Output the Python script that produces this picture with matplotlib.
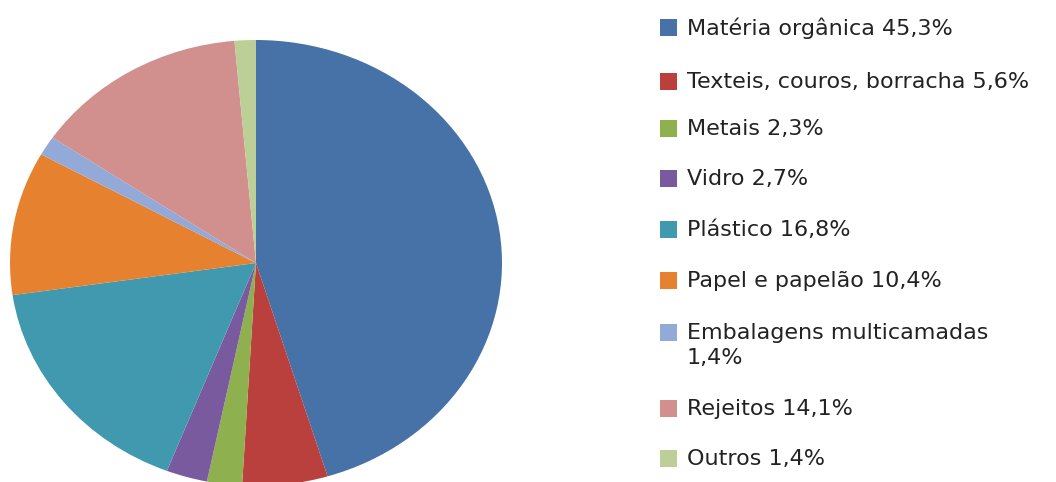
import matplotlib.pyplot as plt
from matplotlib.patches import Rectangle

labels = ['Matéria orgânica 45,3%', 'Texteis, couros, borracha 5,6%', 'Metais 2,3%',
          'Vidro 2,7%', 'Plástico 16,8%', 'Papel e papelão 10,4%',
          'Embalagens multicamadas\n1,4%', 'Rejeitos 14,1%', 'Outros 1,4%']
values = [45.3, 5.6, 2.3, 2.7, 16.8, 10.4, 1.4, 14.1, 1.4]
colors = ['#4672A8', '#B9403D', '#8FB04E', '#7A5A9E', '#4199B0',
          '#E6822F', '#93A9D8', '#D18F8E', '#BBCF96']

W, H = 1056, 482
fig = plt.figure(figsize=(W / 100, H / 100), dpi=100)

# pie is slightly squashed in the reference, so use an auto-aspect axes
ax = fig.add_axes([10 / W, (H - 486) / H, 492 / W, 446 / H])
ax.pie(values, colors=colors, startangle=90, counterclock=False,
       wedgeprops=dict(linewidth=0))
ax.set_aspect('auto')
ax.set_xlim(-1, 1)
ax.set_ylim(-1, 1)
ax.axis('off')

# manual legend
row_y = [28, 82, 129, 179, 230, 281, 333, 409, 459]
fs = 16
for lab, col, yc in zip(labels, colors, row_y):
    sq = 17
    fig.patches.append(Rectangle((660 / W, (H - yc + 1 - sq / 2) / H), sq / W, sq / H,
                                 transform=fig.transFigure, facecolor=col,
                                 edgecolor='none'))
    lines = lab.split('\n')
    for k, line in enumerate(lines):
        fig.text(687 / W, 1 - (yc + 25 * k) / H, line, fontsize=fs,
                 family='DejaVu Sans', color='#222222', va='center')

fig.savefig('out.png', dpi=100, facecolor='white')
